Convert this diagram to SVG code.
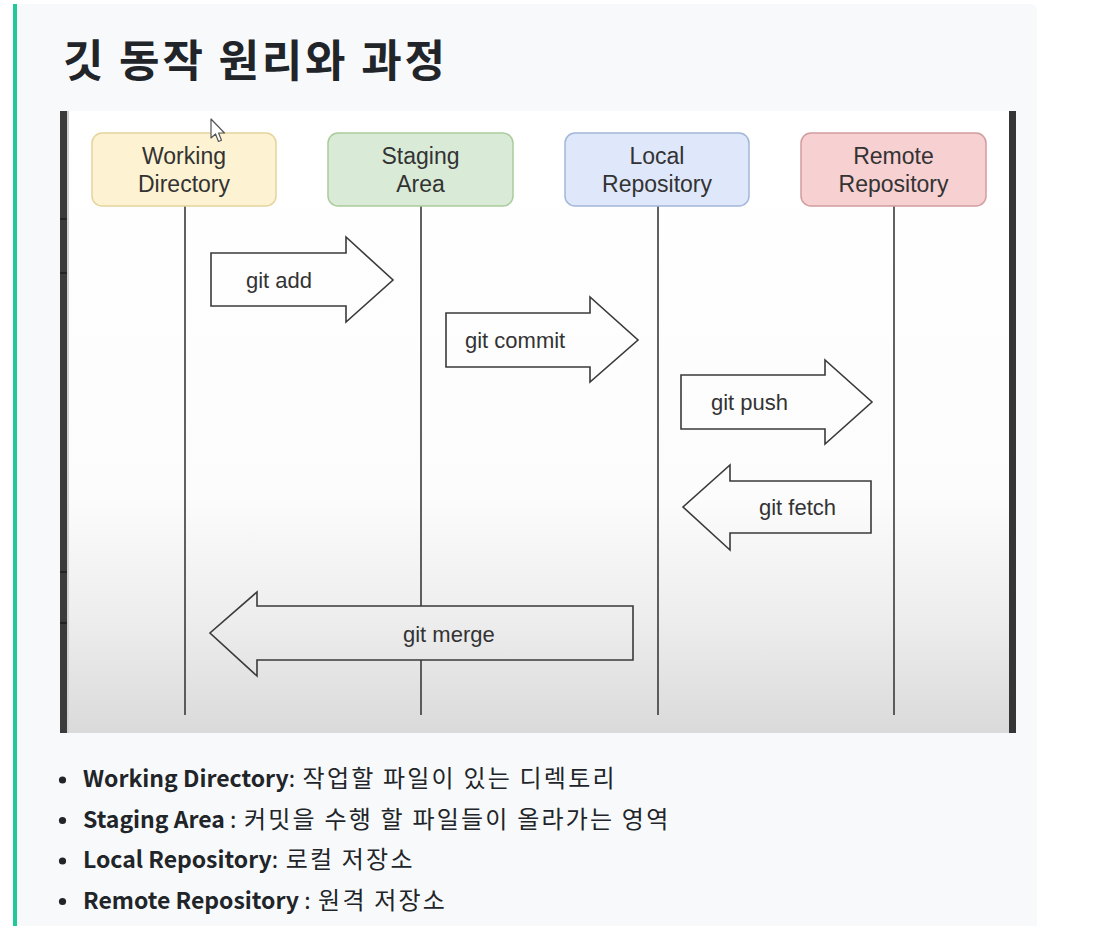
<svg xmlns="http://www.w3.org/2000/svg" width="1111" height="926" viewBox="0 0 1111 926">
<style>
.box{stroke-width:1.5}
.blbl{font-family:"Liberation Sans",Arial,sans-serif;font-size:23px;fill:#333;text-anchor:middle}
.life{stroke:#3a3a3a;stroke-width:1.6;fill:none}
.arr{fill:url(#bg);stroke:#3a3a3a;stroke-width:1.6;stroke-linejoin:miter}
.albl{font-family:"Liberation Sans",Arial,sans-serif;font-size:22px;fill:#333}
.li{font-family:"Noto Sans CJK KR","Noto Sans",sans-serif;font-size:23px;fill:#212529;white-space:pre}
.b{font-weight:700}
.k{letter-spacing:2.2px;font-size:24px}
</style>
<defs>
<linearGradient id="bg" gradientUnits="userSpaceOnUse" x1="0" y1="111" x2="0" y2="733">
<stop offset="0" stop-color="#ffffff"/>
<stop offset="0.62" stop-color="#fcfcfc"/>
<stop offset="0.82" stop-color="#ededed"/>
<stop offset="1" stop-color="#dadada"/>
</linearGradient>
</defs>
<rect x="0" y="0" width="1111" height="926" fill="#ffffff"/>
<rect x="13" y="4" width="1024" height="940" rx="6" fill="#f8f9fa"/>
<rect x="13" y="4" width="4" height="922" fill="#20c997"/>
<text x="63" y="77" font-family="'Noto Sans CJK KR','Noto Sans',sans-serif" font-size="44" font-weight="700" fill="#212529" textLength="382" lengthAdjust="spacing">깃 동작 원리와 과정</text>

<g id="screenshot">
<rect x="60" y="111" width="956" height="622" fill="url(#bg)"/>
<rect x="60" y="111" width="7" height="622" fill="#3b3b3b"/>
<rect x="67" y="111" width="2" height="622" fill="#d0d0d0"/>
<rect x="1009" y="111" width="7" height="622" fill="#363636"/>
<g stroke="#1e1e1e" stroke-width="1.5">
<line x1="60" y1="219" x2="67" y2="219"/>
<line x1="60" y1="273" x2="67" y2="273"/>
<line x1="60" y1="572" x2="67" y2="572"/>
<line x1="60" y1="623" x2="67" y2="623"/>
</g>
</g>

<g id="connectors">
<line class="life" x1="185" y1="206" x2="185" y2="715"/>
<line class="life" x1="421" y1="206" x2="421" y2="715"/>
<line class="life" x1="658" y1="206" x2="658" y2="715"/>
<line class="life" x1="894" y1="206" x2="894" y2="715"/>
</g>

<g id="working-directory">
<rect class="box" x="92" y="133" width="184" height="73" rx="10" fill="#fdf2d2" stroke="#e4d49c"/>
<text class="blbl" x="184" y="164">Working</text>
<text class="blbl" x="184" y="192">Directory</text>
</g>
<g id="staging-area">
<rect class="box" x="328" y="133" width="185" height="73" rx="10" fill="#d9ebd7" stroke="#aacc9c"/>
<text class="blbl" x="420.5" y="164">Staging</text>
<text class="blbl" x="420.5" y="192">Area</text>
</g>
<g id="local-repository">
<rect class="box" x="565" y="133" width="184" height="73" rx="10" fill="#dfe8fa" stroke="#a3b6d8"/>
<text class="blbl" x="657" y="164">Local</text>
<text class="blbl" x="657" y="192">Repository</text>
</g>
<g id="remote-repository">
<rect class="box" x="801" y="133" width="185" height="73" rx="10" fill="#f7d0d2" stroke="#d29c9e"/>
<text class="blbl" x="893.5" y="164">Remote</text>
<text class="blbl" x="893.5" y="192">Repository</text>
</g>

<g id="git-add">
<polygon class="arr" points="211,253 346,253 346,237 393,280 346,322 346,306 211,306"/>
<text class="albl" x="246" y="288">git add</text>
</g>
<g id="git-commit">
<polygon class="arr" points="446,313 590,313 590,297 638,340 590,382 590,367 446,367"/>
<text class="albl" x="465" y="348">git commit</text>
</g>
<g id="git-push">
<polygon class="arr" points="681,375 825,375 825,360 872,402 825,444 825,429 681,429"/>
<text class="albl" x="711" y="410">git push</text>
</g>
<g id="git-fetch">
<polygon class="arr" points="871,481 730,481 730,465 683,507 730,550 730,533 871,533"/>
<text class="albl" x="759" y="515">git fetch</text>
</g>
<g id="git-merge">
<polygon class="arr" points="633,606 257,606 257,592 210,633 257,676 257,660 633,660"/>
<text class="albl" x="403" y="642">git merge</text>
</g>

<g id="cursor">
<path d="M211,119 L211,138 L215.5,134 L218.5,141.5 L221.5,140.2 L218.6,133 L224.5,133 Z" fill="#ffffff" stroke="#555" stroke-width="1.2" stroke-linejoin="round"/>
</g>

<g id="legend">
<circle cx="62.5" cy="780" r="3.6" fill="#212529"/>
<circle cx="62.5" cy="820.5" r="3.6" fill="#212529"/>
<circle cx="62.5" cy="861" r="3.6" fill="#212529"/>
<circle cx="62.5" cy="901.5" r="3.6" fill="#212529"/>
<text class="li" x="83" y="787"><tspan class="b">Working Directory</tspan>:<tspan class="k"> 작업할 파일이 있는 디렉토리</tspan></text>
<text class="li" x="83" y="828"><tspan class="b">Staging Area</tspan> :<tspan class="k"> 커밋을 수행 할 파일들이 올라가는 영역</tspan></text>
<text class="li" x="83" y="868"><tspan class="b">Local Repository</tspan>:<tspan class="k"> 로컬 저장소</tspan></text>
<text class="li" x="83" y="909"><tspan class="b">Remote Repository</tspan> :<tspan class="k"> 원격 저장소</tspan></text>
</g>
</svg>
